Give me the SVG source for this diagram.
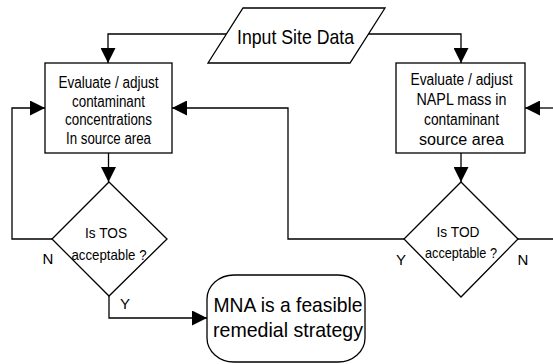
<svg xmlns="http://www.w3.org/2000/svg" width="553" height="364" viewBox="0 0 553 364">
<defs>
<marker id="ah" markerUnits="userSpaceOnUse" markerWidth="15" markerHeight="15" refX="15" refY="7.5" orient="auto">
<path d="M0,0 L15,7.5 L0,15 z" fill="#000"/>
</marker>
<style>
.sh{fill:#fff;stroke:#000;stroke-width:1.3}
.ln{fill:none;stroke:#000;stroke-width:1.3}
.t{font-family:"Liberation Sans",Arial,sans-serif;fill:#000;text-anchor:middle}
.bx{font-size:16px}
.dm{font-size:15px}
.lb{font-size:15px}
.bg{font-size:21px}
</style>
</defs>
<rect width="553" height="364" fill="#fff"/>
<g id="connectors">
<path class="ln" d="M226,34 H108 V63" marker-end="url(#ah)"/>
<path class="ln" d="M368,34 H461 V63" marker-end="url(#ah)"/>
<path class="ln" d="M108.5,153 V182" marker-end="url(#ah)"/>
<path class="ln" d="M461,153 V182" marker-end="url(#ah)"/>
<path class="ln" d="M52,239 H12 V108 H45" marker-end="url(#ah)"/>
<path class="ln" d="M404,239 H288 V108 H172" marker-end="url(#ah)"/>
<path class="ln" d="M518,239 H553"/>
<path class="ln" d="M553,108 H525" marker-end="url(#ah)"/>
<path class="ln" d="M109,296 V318 H207" marker-end="url(#ah)"/>
</g>
<g id="input">
<polygon class="sh" points="243,8 385,8 350,63 208,63"/>
<text class="t bg" x="295.5" y="44" textLength="117" lengthAdjust="spacingAndGlyphs">Input Site Data</text>
</g>
<g id="box-left">
<rect class="sh" x="45" y="63" width="127" height="90"/>
<text class="t bx" x="108.5" y="88" textLength="100" lengthAdjust="spacingAndGlyphs">Evaluate / adjust</text>
<text class="t bx" x="108.5" y="106.5" textLength="73" lengthAdjust="spacingAndGlyphs">contaminant</text>
<text class="t bx" x="108.5" y="125" textLength="87" lengthAdjust="spacingAndGlyphs">concentrations</text>
<text class="t bx" x="108.5" y="143.5" textLength="85" lengthAdjust="spacingAndGlyphs">In source area</text>
</g>
<g id="box-right">
<rect class="sh" x="396" y="63" width="129" height="90"/>
<text class="t bx" x="461.5" y="85" textLength="102" lengthAdjust="spacingAndGlyphs">Evaluate / adjust</text>
<text class="t bx" x="461.5" y="105" textLength="90" lengthAdjust="spacingAndGlyphs">NAPL mass in</text>
<text class="t bx" x="461.5" y="125" textLength="75" lengthAdjust="spacingAndGlyphs">contaminant</text>
<text class="t bx" x="461.5" y="145" textLength="85" lengthAdjust="spacingAndGlyphs">source area</text>
</g>
<g id="tos">
<polygon class="sh" points="109,182 167,239 109,296 52,239"/>
<text class="t dm" x="106" y="238" textLength="42" lengthAdjust="spacingAndGlyphs">Is TOS</text>
<text class="t dm" x="109" y="260" textLength="75" lengthAdjust="spacingAndGlyphs">acceptable ?</text>
<text class="t lb" x="48" y="264">N</text>
<text class="t lb" x="125" y="309">Y</text>
</g>
<g id="tod">
<polygon class="sh" points="461,182 518,239 461,297 404,239"/>
<text class="t dm" x="458" y="237" textLength="43" lengthAdjust="spacingAndGlyphs">Is TOD</text>
<text class="t dm" x="461" y="258" textLength="72" lengthAdjust="spacingAndGlyphs">acceptable ?</text>
<text class="t lb" x="401" y="265">Y</text>
<text class="t lb" x="523" y="265">N</text>
</g>
<g id="mna">
<rect class="sh" x="207" y="275" width="158" height="87" rx="27" ry="24"/>
<text class="t bg" x="288" y="312" textLength="149" lengthAdjust="spacingAndGlyphs">MNA is a feasible</text>
<text class="t bg" x="288" y="337" textLength="150" lengthAdjust="spacingAndGlyphs">remedial strategy</text>
</g>
</svg>
